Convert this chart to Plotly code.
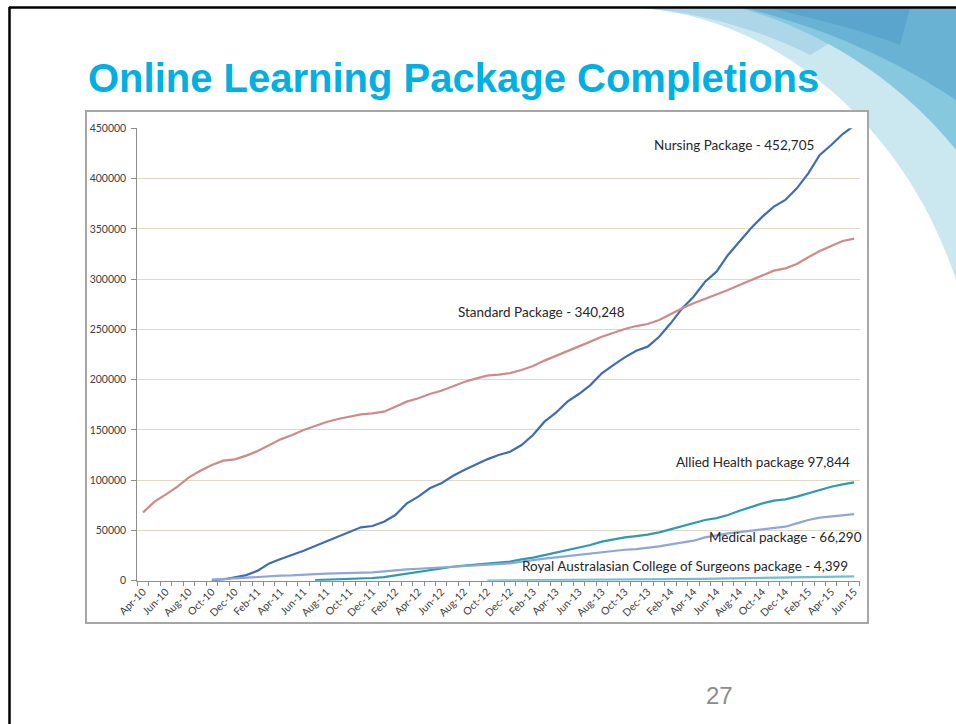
import plotly.graph_objects as go

W, H = 956, 724

MONTHS = ["Apr-10","May-10","Jun-10","Jul-10","Aug-10","Sep-10","Oct-10","Nov-10","Dec-10","Jan-11",
          "Feb-11","Mar-11","Apr-11","May-11","Jun-11","Jul-11","Aug-11","Sep-11","Oct-11","Nov-11",
          "Dec-11","Jan-12","Feb-12","Mar-12","Apr-12","May-12","Jun-12","Jul-12","Aug-12","Sep-12",
          "Oct-12","Nov-12","Dec-12","Jan-13","Feb-13","Mar-13","Apr-13","May-13","Jun-13","Jul-13",
          "Aug-13","Sep-13","Oct-13","Nov-13","Dec-13","Jan-14","Feb-14","Mar-14","Apr-14","May-14",
          "Jun-14","Jul-14","Aug-14","Sep-14","Oct-14","Nov-14","Dec-14","Jan-15","Feb-15","Mar-15",
          "Apr-15","May-15","Jun-15"]

STANDARD = [68000, 78600, 85900, 93500, 102800, 109400, 115100, 119400, 120700, 124400,
            129000, 135000, 140600, 144900, 149900, 153900, 157800, 160800, 163100, 165500,
            166500, 168100, 173100, 178100, 181400, 185700, 189000, 193700, 197600, 201000,
            203900, 205000, 206500, 209600, 213500, 218900, 223500, 228800, 232800, 237800,
            242700, 246700, 250400, 253300, 255300, 259300, 265300, 270900, 275900, 280200,
            284200, 289200, 294100, 299100, 303700, 308400, 310700, 315000, 321700, 328000,
            332900, 337900, 340248]

NURSING = [None, None, None, None, None, None, 500, 1200, 3300, 5600,
           10000, 17200, 21600, 25500, 29800, 34500, 39100, 43800, 48700, 53100,
           54400, 58700, 65300, 76900, 83600, 91900, 96800, 104100, 110100, 115700,
           120700, 125000, 128300, 135000, 144900, 158200, 167100, 178100, 185700, 194600,
           206300, 214500, 222200, 228800, 232800, 242700, 256000, 270900, 282500, 297400,
           307400, 324000, 337200, 350500, 362100, 372100, 378700, 390300, 405200, 423500,
           433400, 444300, 452705]

ALLIED = [None]*15 + [500, 800, 1700, 2000, 2300,
          2700, 3600, 5300, 7300, 9300, 11000, 12300, 13900, 14900, 15900,
          17200, 18400, 18900, 21200, 22900, 25500, 27900, 30500, 32500, 35500,
          38800, 41100, 43100, 44400, 45800, 48100, 51100, 54400, 57000, 60400,
          62300, 65300, 69600, 73600, 76900, 79600, 80900, 83600, 86900, 90900,
          93500, 95800, 97844]

MEDICAL = [None]*6 + [1000, 1700, 2700, 3300,
           4000, 4600, 5000, 5300, 5600, 6600, 7000, 7300, 7600, 8000,
           8300, 9300, 10600, 11300, 11900, 12600, 12900, 13900, 14600, 15300,
           15900, 16600, 17200, 18900, 20600, 21900, 23200, 24500, 26200, 27200,
           28500, 29800, 30800, 31500, 32500, 34200, 36100, 37800, 39800, 43100,
           45400, 47100, 48400, 49700, 51100, 52400, 53700, 57000, 60400, 62700,
           63700, 64700, 66290]

RACS = [None]*30 + [200, 250, 300, 350, 400, 450, 500, 550, 600, 650,
        700, 800, 900, 1000, 1100, 1250, 1400, 1550, 1700, 1850,
        2000, 2150, 2300, 2450, 2600, 2750, 2900, 3050, 3250, 3500,
        3800, 4100, 4399]

SERIES = [
    ("Nursing Package", NURSING, "#3F6DAF"),
    ("Standard Package", STANDARD, "#CF8A8A"),
    ("Allied Health package", ALLIED, "#2E9BAE"),
    ("Medical package", MEDICAL, "#8FA6D8"),
    ("Royal Australasian College of Surgeons package", RACS, "#72BFD2"),
]

LABELS = [
    ("Nursing Package - 452,705", 733.5, 145),
    ("Standard Package - 340,248", 541.4, 311.7),
    ("Allied Health package 97,844", 763, 461.7),
    ("Medical package - 66,290", 785.4, 537),
    ("Royal Australasian College of Surgeons package - 4,399", 685.4, 565.7),
]

TITLE = "Online Learning Package Completions"
PAGE = "27"


def px(x):
    return x / W


def py(y):
    return 1 - y / H


def path(points_cmds):
    out = []
    for cmd, pts in points_cmds:
        coords = " ".join(f"{px(x):.5f},{py(y):.5f}" for x, y in pts)
        out.append(f"{cmd} {coords}")
    return " ".join(out) + " Z"


X_IDX = list(range(len(MONTHS)))

fig = go.Figure()
for name, vals, color in SERIES:
    fig.add_trace(go.Scatter(x=X_IDX, y=vals, mode="lines", name=name,
                             line=dict(color=color, width=2.2), connectgaps=False,
                             hoverinfo="skip"))

# plot area in pixels
PL, PR, PT, PB = 137.3, 859.9, 128.3, 580.7

axis_font = dict(family="Lato, 'Open Sans', sans-serif", size=10.5, color="#404040")

fig.update_layout(
    width=W, height=H,
    margin=dict(l=0, r=0, t=0, b=0, autoexpand=False),
    paper_bgcolor="white", plot_bgcolor="white",
    showlegend=False,
    xaxis=dict(domain=[px(PL), px(PR)], range=[-0.5, len(MONTHS) - 0.5], automargin=False,
               tickmode="array", tickvals=X_IDX[::2], ticktext=MONTHS[::2],
               tickangle=-45, tickfont=dict(family="Lato, sans-serif", size=10.5, color="#404040"),
               ticks="", showgrid=False, zeroline=False,
               showline=True, linecolor="#8C8C8C", linewidth=1,
               minor=dict(tickmode="linear", tick0=-0.5, dtick=1, ticks="outside",
                          ticklen=4, tickcolor="#8C8C8C", tickwidth=1, showgrid=False)),
    yaxis=dict(domain=[py(PB), py(PT)], range=[0, 450000], dtick=50000, automargin=False,
               tickformat="d", tickfont=axis_font, ticklabelstandoff=3,
               ticks="outside", ticklen=5, tickcolor="#8C8C8C",
               showgrid=True, gridcolor="#DDD9C3", gridwidth=1, zeroline=False,
               showline=True, linecolor="#8C8C8C", linewidth=1),
)

shapes = []
# decorative swoosh (top right)
shapes.append(dict(type="path", xref="paper", yref="paper", layer="below",
                   path=path([("M", [(640, 8)]), ("C", [(760, 15), (900, 110), (956, 280)]),
                              ("L", [(956, 150)]), ("C", [(900, 80), (820, 30), (740, 8)])]),
                   fillcolor="#CBE7F0", line=dict(width=0)))
shapes.append(dict(type="path", xref="paper", yref="paper", layer="below",
                   path=path([("M", [(640, 8)]), ("C", [(700, 12), (760, 30), (810, 55)]),
                              ("L", [(830, 43)]), ("C", [(800, 25), (770, 14), (740, 8)])]),
                   fillcolor="#ADD6E8", line=dict(width=0)))
shapes.append(dict(type="path", xref="paper", yref="paper", layer="below",
                   path=path([("M", [(740, 8)]), ("C", [(820, 30), (900, 80), (956, 150)]),
                              ("L", [(956, 8)])]),
                   fillcolor="#86C8DE", line=dict(width=0)))
shapes.append(dict(type="path", xref="paper", yref="paper", layer="below",
                   path=path([("M", [(745, 8)]), ("C", [(810, 25), (880, 50), (956, 100)]),
                              ("L", [(956, 8)])]),
                   fillcolor="#6AB2D4", line=dict(width=0)))
shapes.append(dict(type="path", xref="paper", yref="paper", layer="below",
                   path=path([("M", [(770, 8)]), ("C", [(820, 20), (860, 30), (900, 45)]),
                              ("L", [(910, 8)])]),
                   fillcolor="#5AA5CD", line=dict(width=0)))
# chart frame
shapes.append(dict(type="rect", xref="paper", yref="paper", layer="below",
                   x0=px(86), x1=px(868), y0=py(623), y1=py(111),
                   fillcolor="white", line=dict(color="#A6A6A6", width=2)))
# slide border lines
shapes.append(dict(type="line", xref="paper", yref="paper", layer="above",
                   x0=px(9), x1=px(956), y0=py(7.5), y1=py(7.5),
                   line=dict(color="black", width=2.5)))
shapes.append(dict(type="line", xref="paper", yref="paper", layer="above",
                   x0=px(9.5), x1=px(9.5), y0=py(7), y1=py(724),
                   line=dict(color="black", width=2.5)))
fig.update_layout(shapes=shapes)

annotations = []
annotations.append(dict(text=f"<b>{TITLE}</b>", xref="paper", yref="paper",
                        x=px(86), y=py(78), xanchor="left", yanchor="middle", showarrow=False,
                        font=dict(family="Liberation Sans, Arial, sans-serif", size=40, color="#00B0E3")))
annotations.append(dict(text=PAGE, xref="paper", yref="paper",
                        x=px(719), y=py(695.5), xanchor="center", yanchor="middle", showarrow=False,
                        font=dict(family="Liberation Sans, Arial, sans-serif", size=24, color="#8C8C8C")))
for text, cx, cy in LABELS:
    annotations.append(dict(text=text, xref="paper", yref="paper", x=px(cx), y=py(cy),
                            xanchor="center", yanchor="middle", showarrow=False,
                            font=dict(family="Lato, sans-serif", size=13.5, color="#262626")))
fig.update_layout(annotations=annotations)

fig.write_html("out.html", config=dict(displayModeBar=False),
               post_script="document.body.style.margin='0';document.body.style.overflow='hidden';")
